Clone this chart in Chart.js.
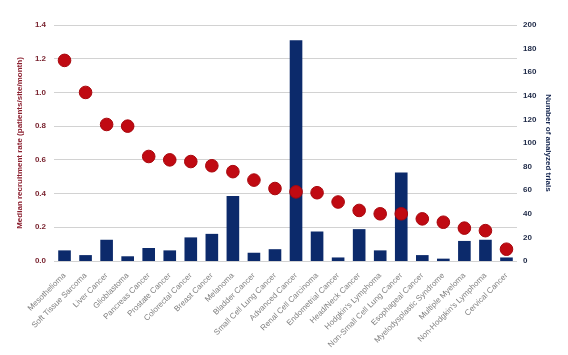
<!DOCTYPE html>
<html>
<head>
<meta charset="utf-8">
<script src="https://cdn.jsdelivr.net/npm/chart.js@4"></script>
<style>
html,body{margin:0;padding:0;background:#fff;}
#wrap{width:568px;height:355px;position:relative;}
</style>
</head>
<body>
<div id="wrap"><canvas id="c" width="568" height="355"></canvas></div>
<script>
const categories = ["Mesothelioma","Soft Tissue Sarcoma","Liver Cancer","Glioblastoma","Pancreas Cancer","Prostate Cancer","Colorectal Cancer","Breast Cancer","Melanoma","Bladder Cancer","Small Cell Lung Cancer","Advanced Cancer","Renal Cell Carcinoma","Endometrial Cancer","Head/Neck Cancer","Hodgkin's Lymphoma","Non-Small Cell Lung Cancer","Esophageal Cancer","Myelodysplastic Syndrome","Multiple Myeloma","Non-Hodgkin's Lymphoma","Cervical Cancer"];
const recruitmentRate = [1.19,1.0,0.81,0.80,0.62,0.60,0.59,0.565,0.53,0.48,0.43,0.41,0.405,0.35,0.30,0.28,0.28,0.25,0.23,0.195,0.18,0.07];
const analyzedTrials = [9,5,18,4,11,9,20,23,55,7,10,187,25,3,27,9,75,5,2,17,18,3];
const leftTitle = "Median recruitment rate (patients/site/month)";
const rightTitle = "Number of analyzed trials";

const font = "'Liberation Sans', Arial, sans-serif";
new Chart(document.getElementById('c'), {
  data: {
    labels: categories,
    datasets: [
      {
        type: 'line',
        data: recruitmentRate,
        yAxisID: 'y',
        showLine: false,
        pointRadius: 6.3,
        pointHoverRadius: 6.3,
        pointBackgroundColor: '#c00a12',
        pointBorderColor: '#a8070d',
        pointBorderWidth: 1,
        order: 1
      },
      {
        type: 'bar',
        data: analyzedTrials,
        yAxisID: 'y2',
        backgroundColor: '#0c2a6b',
        barPercentage: 0.6,
        categoryPercentage: 1.0,
        order: 2
      }
    ]
  },
  options: {
    responsive: false,
    animation: false,
    devicePixelRatio: 1,
    layout: { padding: { top: 25, left: 15, right: 15, bottom: 0 } },
    plugins: { legend: { display: false }, tooltip: { enabled: false } },
    scales: {
      x: {
        grid: { display: false },
        border: { display: false },
        ticks: {
          autoSkip: false, maxRotation: 45, minRotation: 45,
          color: '#808080', font: { family: font, size: 8 }, padding: 2
        },
        afterFit: s => { s.height = 94; }
      },
      y: {
        position: 'left',
        min: 0, max: 1.4,
        ticks: {
          stepSize: 0.2, color: '#7a2430', padding: 8,
          font: { family: font, size: 8, weight: 'bold' },
          callback: v => v.toFixed(1)
        },
        grid: { color: '#d2d2d2', drawTicks: false, lineWidth: 1 },
        border: { display: false },
        title: { display: true, text: leftTitle, color: '#8a1e2e', font: { family: font, size: 8, weight: 'bold' }, padding: 0 },
        afterFit: s => { s.width = 39; }
      },
      y2: {
        position: 'right',
        min: 0, max: 200,
        ticks: {
          stepSize: 20, color: '#1c2745', padding: 6,
          font: { family: font, size: 8, weight: 'bold' }
        },
        grid: { display: false, drawTicks: false },
        border: { display: false },
        title: { display: true, text: rightTitle, color: '#14254f', font: { family: font, size: 8, weight: 'bold' }, padding: 0 },
        afterFit: s => { s.width = 36; }
      }
    }
  }
});
</script>
</body>
</html>
